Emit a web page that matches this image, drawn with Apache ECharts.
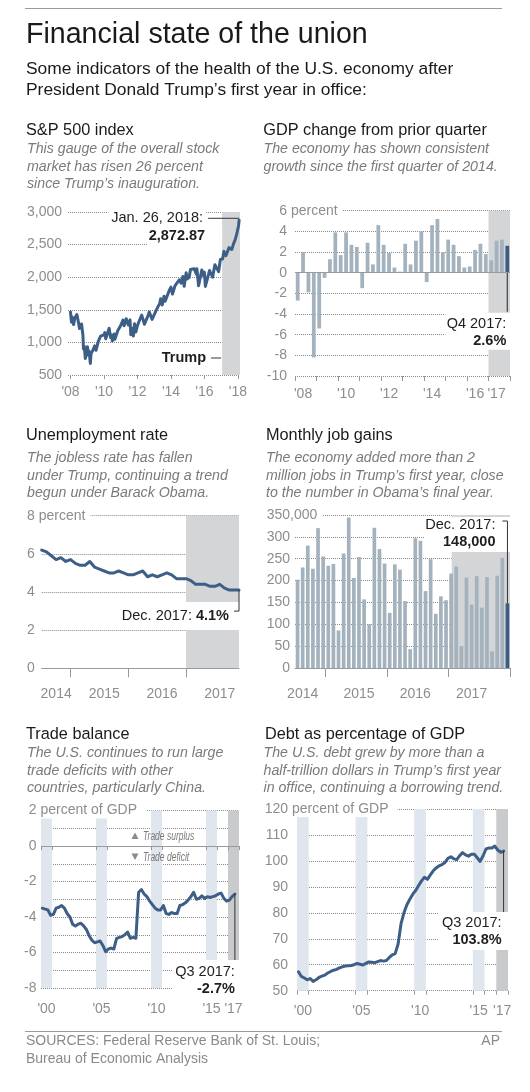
<!DOCTYPE html>
<html><head><meta charset="utf-8">
<script src="https://cdn.jsdelivr.net/npm/echarts@6/dist/echarts.min.js"></script>
<style>html,body{margin:0;padding:0;background:#fff}#c{width:530px;height:1092px}</style>
</head><body><div id="c"></div>
<script>
// ---------------- DATA ----------------
const spDates = ['2007-12-31','2008-01-22','2008-02-01','2008-03-10','2008-04-01','2008-05-19','2008-06-30','2008-07-15','2008-08-29','2008-09-19','2008-09-29','2008-10-10','2008-10-28','2008-11-20','2008-12-31','2009-01-06','2009-01-20','2009-02-09','2009-03-09','2009-03-26','2009-04-30','2009-06-12','2009-07-10','2009-08-31','2009-10-19','2009-11-30','2009-12-31','2010-01-19','2010-02-08','2010-04-23','2010-05-25','2010-06-15','2010-07-02','2010-08-09','2010-08-26','2010-10-29','2010-12-31','2011-02-18','2011-03-16','2011-04-29','2011-06-15','2011-07-22','2011-08-08','2011-08-31','2011-10-03','2011-10-27','2011-11-25','2011-12-30','2012-02-29','2012-04-02','2012-06-01','2012-07-31','2012-09-14','2012-11-15','2012-12-31','2013-02-28','2013-04-30','2013-05-21','2013-06-24','2013-08-02','2013-08-27','2013-10-08','2013-11-29','2013-12-31','2014-02-03','2014-03-31','2014-04-30','2014-06-30','2014-08-07','2014-09-18','2014-10-15','2014-11-28','2014-12-16','2015-01-30','2015-03-02','2015-05-21','2015-07-08','2015-07-20','2015-08-25','2015-09-29','2015-11-03','2015-12-14','2015-12-29','2016-01-20','2016-02-11','2016-04-20','2016-06-27','2016-08-15','2016-09-22','2016-11-04','2016-12-13','2017-01-31','2017-03-01','2017-04-13','2017-06-19','2017-08-18','2017-09-29','2017-10-31','2017-11-30','2017-12-29','2018-01-12','2018-01-26'];
const spValues = [1468,1310,1395,1273,1370,1426,1280,1214,1283,1255,1106,899,941,752,903,935,805,870,677,833,873,946,879,1021,1097,1096,1115,1150,1056,1217,1074,1115,1022,1128,1047,1183,1258,1343,1256,1364,1266,1345,1119,1219,1099,1285,1158,1258,1366,1419,1278,1379,1466,1353,1426,1515,1598,1669,1573,1709,1630,1656,1806,1848,1741,1872,1884,1960,1910,2011,1862,2068,1972,1995,2117,2131,2047,2128,1868,1884,2109,2021,2078,1859,1829,2102,2001,2191,2177,2085,2271,2279,2396,2329,2453,2426,2519,2575,2648,2674,2786,2872.87];
const spTickYears = [2008, 2010, 2012, 2014, 2016, 2018];
const trumpStart = '2017-01-20';

const gdpValues = [-2.7,2.0,-1.9,-8.2, -5.4,-0.5,1.3,3.9, 1.7,3.9,2.7,2.5, -1.5,2.9,0.8,4.6, 2.7,1.9,0.5,0.1, 2.8,0.8,3.1,4.0, -0.9,4.6,5.2,2.0, 3.2,2.7,1.6,0.5, 0.6,2.2,2.8,1.8, 1.2,3.1,3.2,2.6];
const gdpTickLabels = {'2008-Q2':"'08",'2010-Q2':"'10",'2012-Q2':"'12",'2014-Q2':"'14",'2016-Q2':"'16",'2017-Q2':"'17"};

const unempValues = [6.2,6.1,5.9,5.7,5.8,5.6, 5.7,5.5,5.4,5.4,5.6,5.3,5.2,5.1,5.0,5.0,5.1,5.0, 4.9,4.9,5.0,5.1,4.8,4.9,4.8,4.9,5.0,4.9,4.7,4.7, 4.7,4.6,4.4,4.4,4.4,4.3,4.3,4.4,4.2,4.1,4.1,4.1];
const unempTickLabels = {'2014-10':'2014','2015-08':'2015','2016-08':'2016','2017-08':'2017'};

const jobsValues = [202,230,280,227,320,255, 234,238,86,262,344,206,254,157,100,321,272,239, 126,237,225,153,43,297,291,176,249,124,164,155, 216,232,50,207,145,210,138,208,38,211,252,148]; // thousands
const jobsTickLabels = {'2014-08':'2014','2015-07':'2015','2016-06':'2016','2017-05':'2017'};

const tradeValues = [-3.5,-3.55,-3.6,-3.9,-3.85,-3.5,-3.45,-3.35,-3.5,-3.8, -4.0,-4.4,-4.5,-4.4,-4.35,-4.5,-4.7,-5.05,-5.3,-5.45, -5.4,-5.35,-5.6,-5.95,-5.8,-5.75,-5.8,-5.2,-5.15,-5.1, -5.0,-4.85,-5.2,-5.15,-5.2,-2.6,-2.45,-2.7,-2.85,-3.1, -3.3,-3.5,-3.6,-3.6,-3.35,-3.8,-3.85,-3.75,-3.8,-3.8, -3.35,-3.3,-3.2,-3.05,-2.85,-2.6,-3.0,-2.95,-2.8,-2.95, -2.85,-2.9,-2.85,-2.8,-2.7,-2.65,-2.95,-3.1,-3.05,-2.85, -2.7];
const debtValues = [57.3,55.5,54.9,54.2,54.7,53.6,54.2,55.1,55.6,56.0, 56.8,57.4,57.9,58.2,58.8,59.2,59.5,59.6,59.7,60.0, 60.5,60.2,59.9,60.5,61.1,61.0,60.8,61.2,61.6,61.4, 61.6,62.8,63.8,64.3,68.0,75.8,80.0,83.1,85.2,87.2, 88.6,90.5,92.3,93.7,92.9,94.6,96.2,97.3,98.1,98.6, 99.4,101.0,101.6,100.8,100.5,102.0,103.2,102.3,101.8,102.6, 102.6,101.2,99.8,102.0,104.6,105.0,105.0,105.7,104.2,103.3, 103.8];
const bandYears = [2000, 2005, 2010, 2015];
const trumpBandYear = 2017;

// ---------------- helpers ----------------
function quarterSeq(y, q, n){const r=[];for(let i=0;i<n;i++){r.push(y+'-Q'+q);q++;if(q>4){q=1;y++;}}return r;}
function monthSeq(y, m, n){const r=[];for(let i=0;i<n;i++){r.push(y+'-'+String(m).padStart(2,'0'));m++;if(m>12){m=1;y++;}}return r;}
function decYear(s){const y=+s.slice(0,4);const d=Date.parse(s+'T00:00:00Z');const a=Date.UTC(y,0,1),b=Date.UTC(y+1,0,1);return y+(d-a)/(b-a);}
function quarterMid(s){const y=+s.slice(0,4),q=+s.slice(-1);return y+(q-1)/4+0.125;}

const gdpQuarters = quarterSeq(2008, 1, gdpValues.length);
const unempMonths = monthSeq(2014, 7, unempValues.length);
const jobsMonths = monthSeq(2014, 7, jobsValues.length);
const tradeQuarters = quarterSeq(2000, 1, tradeValues.length);
const debtQuarters = quarterSeq(2000, 1, debtValues.length);
const gdpHighlight = gdpQuarters[gdpQuarters.length-1];
const jobsHighlight = jobsMonths[jobsMonths.length-1];

// ---------------- style ----------------
const FONT = "'Liberation Sans', Arial, Helvetica, sans-serif";
const AX = '#8d8d8d', GRIDC = '#8a8a8a', LINE = '#3d5e87', BAR = '#a3b2bd', BAR_HI = '#3b5a84';
const SHADE = '#d4d5d7', BAND = '#dfe6ee', BAND_DK = '#c9cacc', INK = '#1e1e1e', DESC = '#7a7a7a';

const grids = [
  {left:68, top:212, width:172, height:163},
  {left:295, top:210.7, width:215, height:165.3},
  {left:41.7, top:515.7, width:197.3, height:152.6},
  {left:295, top:515, width:215, height:153},
  {left:41, top:810.6, width:198, height:177.4},
  {left:297, top:809, width:211, height:181.7}
];

function yAx(gi, min, max, interval, fmt, margin){
  return {type:'value', gridIndex:gi, min, max, interval, z:1,
    axisLine:{show:false}, axisTick:{show:false},
    splitLine:{show:true, lineStyle:{color:GRIDC, type:'dotted', width:1, opacity:1}},
    axisLabel:{color:AX, fontSize:14, margin, formatter:fmt, fontFamily:FONT}};
}
const tickStyle = {color:'#999', width:1};
function catAx(gi, data, boundaryGap, labels, solidLine, tickLen, margin, tickFn){
  return {type:'category', gridIndex:gi, data, boundaryGap, z:1,
    axisLine:{show:solidLine, onZero:false, lineStyle:{color:'#9a9a9a', width:1}},
    axisTick:{show:true, length:tickLen, interval:(i,v)=>tickFn(v), lineStyle:tickStyle},
    axisLabel:{interval:(i,v)=>(v in labels), formatter:v=>labels[v]||'', color:AX, fontSize:14, margin, fontFamily:FONT},
    splitLine:{show:false}};
}
function bandTicks(){const t=[];bandYears.forEach(y=>t.push(y,y+1));t.push(trumpBandYear,trumpBandYear+1);return t;}
function bandLabelPos(){return bandYears.concat([trumpBandYear]).map(y=>y+0.5);}
function yearAx(gi, margin){
  return {type:'value', gridIndex:gi, min:2000, max:2018, z:1,
    axisLine:{show:false}, splitLine:{show:false},
    axisTick:{show:true, length:4, lineStyle:tickStyle, customValues:bandTicks()},
    axisLabel:{customValues:bandLabelPos(), formatter:v=>"'"+String(Math.floor(v)).slice(2), color:AX, fontSize:14, margin, fontFamily:FONT}};
}
function bandAreas(){
  const a = bandYears.map(y=>[{xAxis:y},{xAxis:y+1}]);
  a.push([{xAxis:trumpBandYear, itemStyle:{color:BAND_DK}},{xAxis:trumpBandYear+1}]);
  return a;
}
const zeroLine = {silent:true, symbol:'none', label:{show:false}, lineStyle:{color:'#9a9a9a', type:'solid', width:1}, data:[{yAxis:0}]};
const lineSeries = (xi, yi, data) => ({type:'line', xAxisIndex:xi, yAxisIndex:yi, data, symbol:'none', showSymbol:false, z:2,
  lineStyle:{color:LINE, width:3, join:'round', cap:'round'}});
const shadeSeries = (xi, yi, areas, color) => ({type:'line', xAxisIndex:xi, yAxisIndex:yi, data:[], z:0, silent:true,
  markArea:{silent:true, itemStyle:{color}, data:areas}});

const option = {
  animation:false,
  textStyle:{fontFamily:FONT},
  grid: grids.map(g=>Object.assign({containLabel:false, outerBoundsMode:'none'}, g)),
  xAxis:[
    {type:'value', gridIndex:0, min:2007.85, max:2018.12, z:1, axisLine:{show:false}, splitLine:{show:false},
      axisTick:{show:true, length:4, lineStyle:tickStyle, customValues:spTickYears},
      axisLabel:{customValues:spTickYears, formatter:v=>"'"+String(Math.round(v)).slice(2), color:AX, fontSize:14, margin:10, fontFamily:FONT}},
    catAx(1, gdpQuarters, true, gdpTickLabels, false, 5, 11, v=>v.endsWith('Q1')),
    catAx(2, unempMonths, false, unempTickLabels, true, 9, 19, v=>v.endsWith('-01')),
    catAx(3, jobsMonths, true, jobsTickLabels, true, 9, 19, v=>v.endsWith('-01')),
    yearAx(4, 14),
    yearAx(5, 13),
    {type:'value', gridIndex:1, min:-0.5, max:gdpQuarters.length-0.5, show:false},
    {type:'value', gridIndex:3, min:-0.5, max:jobsMonths.length-0.5, show:false}
  ],
  yAxis:[
    yAx(0, 500, 3000, 500, v=>v.toLocaleString('en-US'), 6),
    yAx(1, -10, 6, 2, v=>String(v), 8),
    yAx(2, 0, 8, 2, v=>String(v), 7),
    yAx(3, 0, 350, 50, v=>String(v), 5),
    yAx(4, -8, 2, 1, v=>(v%2===0?String(v):''), 4.5),
    yAx(5, 50, 120, 10, v=>String(v), 9)
  ],
  series:[
    shadeSeries(0, 0, [[{xAxis:decYear(trumpStart)},{xAxis:2018.12}]], SHADE),
    lineSeries(0, 0, spDates.map((d,i)=>[decYear(d), spValues[i]])),
    shadeSeries(6, 1, [[{xAxis:gdpQuarters.indexOf('2017-Q1')-0.5},{xAxis:gdpQuarters.length-0.5}]], SHADE),
    {type:'bar', xAxisIndex:1, yAxisIndex:1, data:gdpValues, barWidth:'70%', z:2,
      itemStyle:{color:p=>gdpQuarters[p.dataIndex]===gdpHighlight?BAR_HI:BAR}, markLine:zeroLine},
    shadeSeries(2, 2, [[{xAxis:'2017-01'},{xAxis:unempMonths[unempMonths.length-1]}]], SHADE),
    lineSeries(2, 2, unempValues),
    shadeSeries(7, 3, [[{xAxis:jobsMonths.indexOf('2017-01')-0.5+0.6},{xAxis:jobsMonths.length-0.5}]], SHADE),
    {type:'bar', xAxisIndex:3, yAxisIndex:3, data:jobsValues, barWidth:'72%', z:2,
      itemStyle:{color:p=>jobsMonths[p.dataIndex]===jobsHighlight?BAR_HI:BAR}},
    shadeSeries(4, 4, bandAreas(), BAND),
    Object.assign(lineSeries(4, 4, tradeQuarters.map((q,i)=>[quarterMid(q), tradeValues[i]])), {markLine:zeroLine}),
    shadeSeries(5, 5, bandAreas(), BAND),
    lineSeries(5, 5, debtQuarters.map((q,i)=>[quarterMid(q), debtValues[i]]))
  ]
};

const chart = echarts.init(document.getElementById('c'), null, {renderer:'canvas'});
chart.setOption(option);

// ---------------- text & annotations ----------------
const px = (si, pt) => chart.convertToPixel({seriesIndex:si}, pt);
const G = [];
function T(x, y, text, o){
  o = o || {};
  const el = {type:'text', x, y, z:20, silent:true, style:Object.assign({text, fill:INK, fontSize:14, fontFamily:FONT, align:'left', verticalAlign:'middle'}, o.style||{})};
  if (o.scaleX) el.scaleX = o.scaleX;
  G.push(el);
}
function L(x1,y1,x2,y2,color,w){G.push({type:'line', z:20, silent:true, shape:{x1,y1,x2,y2}, style:{stroke:color||'#333', lineWidth:w||1}});}
function R(x,y,w,h){G.push({type:'rect', z:15, silent:true, shape:{x,y,width:w,height:h}, style:{fill:'#fff'}});}
function PL(points){G.push({type:'polyline', z:20, silent:true, shape:{points}, style:{stroke:'#333', lineWidth:1, fill:null}});}

// header
L(25, 8.5, 502, 8.5, '#9a9a9a', 1);
T(26, 35.5, 'Financial state of the union', {style:{fontSize:28.6, fill:'#1a1a1a'}});
T(26, 69.4, 'Some indicators of the health of the U.S. economy after', {style:{fontSize:17.4, fill:'#1a1a1a'}});
T(26, 89.9, 'President Donald Trump\u2019s first year in office:', {style:{fontSize:17.4, fill:'#1a1a1a'}});

const panelText = [
  [26, 27, 130.3, [149.1,166.8,184.1], 'S&P 500 index', ['This gauge of the overall stock','market has risen 26 percent','since Trump\u2019s inauguration.']],
  [263.3, 263.5, 130.3, [149.1,166.8,184.1], 'GDP change from prior quarter', ['The economy has shown consistent','growth since the first quarter of 2014.']],
  [26, 27, 435.3, [458.1,475.6,493.1], 'Unemployment rate', ['The jobless rate has fallen','under Trump, continuing a trend','begun under Barack Obama.']],
  [266, 266, 435.3, [458.1,475.6,493.1], 'Monthly job gains', ['The economy added more than 2','million jobs in Trump\u2019s first year, close','to the number in Obama\u2019s final year.']],
  [26, 27, 734.6, [753.4,770.6,787.8], 'Trade balance', ['The U.S. continues to run large','trade deficits with other','countries, particularly China.']],
  [265, 263.5, 734.6, [753.4,770.6,787.8], 'Debt as percentage of GDP', ['The U.S. debt grew by more than a','half-trillion dollars in Trump\u2019s first year','in office, continuing a borrowing trend.']]
];
panelText.forEach(([xt, xd, yt, yd, title, lines]) => {
  T(xt, yt, title, {style:{fontSize:16.3, fill:'#1a1a1a'}});
  lines.forEach((s,i)=>T(xd, yd[i], s, {style:{fontSize:14.2, fill:DESC, fontStyle:'italic'}}));
});

// unit labels next to top tick values
const unitStyle = {fontSize:14, fill:AX, backgroundColor:'#fff', padding:[1,5,1,0]};
T(grids[1].left-8+4, px(3,[0,6])[1], 'percent', {style:unitStyle});
T(grids[2].left-7+4, px(5,[0,8])[1], 'percent', {style:unitStyle});
T(grids[3].left-5, px(7,[0,350])[1], ',000', {style:unitStyle});
T(grids[4].left-4.5+4, px(9,[2000,2])[1], 'percent of GDP', {style:Object.assign({}, unitStyle, {padding:[1,9,1,0]})});
T(grids[5].left-9+4, px(11,[2000,120])[1], 'percent of GDP', {style:Object.assign({}, unitStyle, {padding:[1,9,1,0]})});

// S&P annotation
(function(){
  const [ex, ey] = px(1, [decYear(spDates[spDates.length-1]), spValues[spValues.length-1]]);
  const sx = px(1, [decYear(trumpStart), 500])[0];
  const by = px(1, [2008, 500])[1];
  R(ex-92, ey+7, sx-(ex-92), 20);
  L(ex-31, ey-2, ex, ey-2, '#333', 1);
  T(ex-34, ey-2, 'Jan. 26, 2018:', {style:{align:'right', fontSize:14.5, backgroundColor:'#fff', padding:[4,2,1,3]}});
  T(ex-34, ey+16, spValues[spValues.length-1].toLocaleString('en-US',{minimumFractionDigits:2}), {style:{align:'right', fontSize:14.5, fontWeight:'bold'}});
  T(sx-16, by-17, 'Trump', {style:{align:'right', fontSize:14.5, fontWeight:'bold'}});
  L(sx-11, by-17, sx-1, by-17, '#333', 1);
})();

// GDP annotation
(function(){
  const last = gdpValues.length-1;
  const [bx, y0] = px(3, [last, 0]);
  const gr = grids[1].left + grids[1].width;
  R(bx-62, y0+40, gr+1-(bx-62), 37);
  L(bx, y0, bx, y0+39, '#444', 1.2);
  T(bx-1, y0+51, 'Q4 2017:', {style:{align:'right', fontSize:14.5}});
  T(bx-1, y0+68, gdpValues[last].toFixed(1)+'%', {style:{align:'right', fontSize:14.5, fontWeight:'bold'}});
})();

// Jobs annotation
(function(){
  const last = jobsValues.length-1;
  const [jx, jy] = px(7, [last, jobsValues[last]]);
  const top = px(7, [last, 350])[1];
  const gr = grids[3].left + grids[3].width;
  R(jx-83, top+2, gr+1-(jx-83), 35);
  PL([[jx-5, top+6],[jx, top+6],[jx, jy]]);
  T(jx-12, top+10, 'Dec. 2017:', {style:{align:'right', fontSize:14.5}});
  T(jx-12, top+27, (jobsValues[last]*1000).toLocaleString('en-US'), {style:{align:'right', fontSize:14.5, fontWeight:'bold'}});
})();

// Unemployment annotation
(function(){
  const last = unempValues.length-1;
  const [ux, uy] = px(5, [last, unempValues[last]]);
  const sx = px(5, [unempMonths.indexOf('2017-01'), 0])[0];
  const gr = grids[2].left + grids[2].width;
  R(sx, uy+12, gr+0.5-sx, 28);
  PL([[ux, uy],[ux, uy+21],[ux-5, uy+21]]);
  T(ux-10, uy+26, '{a|Dec. 2017: }{b|'+unempValues[last].toFixed(1)+'%}', {style:{align:'right', fontSize:14.5,
    rich:{a:{fontSize:14.5, fill:INK, fontFamily:FONT}, b:{fontSize:14.5, fill:INK, fontWeight:'bold', fontFamily:FONT}}}});
})();

// Trade annotation
(function(){
  const last = tradeValues.length-1;
  const [tx, ty] = px(9, [quarterMid(tradeQuarters[last]), tradeValues[last]]);
  const gr = grids[4].left + grids[4].width;
  R(tx-63, ty+66, gr+0.5-(tx-63), 41);
  L(tx, ty, tx, ty+66, '#333', 1);
  T(tx, ty+78, 'Q3 2017:', {style:{align:'right', fontSize:14.5}});
  T(tx, ty+95, tradeValues[last].toFixed(1)+'%', {style:{align:'right', fontSize:14.5, fontWeight:'bold'}});
  const y0 = px(9, [2000, 0])[1];
  const cx = grids[4].left + 94;
  G.push({type:'polygon', z:20, silent:true, shape:{points:[[cx-3.5,y0-7],[cx+3.5,y0-7],[cx,y0-13.5]]}, style:{fill:'#8a8a8a'}});
  G.push({type:'polygon', z:20, silent:true, shape:{points:[[cx-3.5,y0+7.5],[cx+3.5,y0+7.5],[cx,y0+14]]}, style:{fill:'#8a8a8a'}});
  T(cx+8, y0-10, 'Trade surplus', {scaleX:0.68, style:{fontSize:12.5, fill:DESC, fontStyle:'italic'}});
  T(cx+8, y0+11, 'Trade deficit', {scaleX:0.68, style:{fontSize:12.5, fill:DESC, fontStyle:'italic'}});
})();

// Debt annotation
(function(){
  const last = debtValues.length-1;
  const [dx, dy] = px(11, [quarterMid(debtQuarters[last]), debtValues[last]]);
  const gr = grids[5].left + grids[5].width;
  R(dx-65, dy+61, gr+0.5-(dx-65), 38);
  L(dx, dy, dx, dy+61, '#333', 1);
  T(dx-2, dy+72, 'Q3 2017:', {style:{align:'right', fontSize:14.5}});
  T(dx-2, dy+89, debtValues[last].toFixed(1)+'%', {style:{align:'right', fontSize:14.5, fontWeight:'bold'}});
})();

// footer
L(25, 1031.5, 502, 1031.5, '#9a9a9a', 1);
T(26, 1041, 'SOURCES: Federal Reserve Bank of St. Louis;', {style:{fontSize:14, fill:'#8a8a8a'}});
T(26, 1059.4, 'Bureau of Economic Analysis', {style:{fontSize:14, fill:'#8a8a8a'}});
T(500, 1041, 'AP', {style:{fontSize:14, fill:'#8a8a8a', align:'right'}});

chart.setOption({graphic:{elements:G}});
</script></body></html>
